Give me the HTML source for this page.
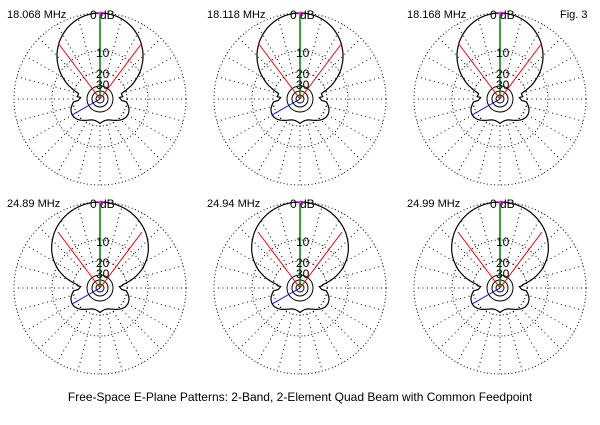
<!DOCTYPE html>
<html><head><meta charset="utf-8"><style>
html,body{margin:0;padding:0;background:#fff;}
svg text{font-family:"Liberation Sans",Arial,sans-serif;}
</style></head><body>
<svg id="s" width="600" height="420" viewBox="0 0 600 420" xmlns="http://www.w3.org/2000/svg">
<rect width="600" height="420" fill="#fff"/>
<text x="560" y="18" font-size="11">Fig. 3</text>
<text x="300" y="401" font-size="12" text-anchor="middle">Free-Space E-Plane Patterns: 2-Band, 2-Element Quad Beam with Common Feedpoint</text>
</svg>
<script>
var s=document.getElementById('s'),NS='http://www.w3.org/2000/svg';
function el(t,a,txt){var e=document.createElementNS(NS,t);for(var k in a)e.setAttribute(k,a[k]);if(txt)e.textContent=txt;s.appendChild(e);return e;}
var plots=[[100,99,'18.068 MHz',0],[300,99,'18.118 MHz',0],[500,99,'18.168 MHz',0],
[100,288,'24.89 MHz',1],[300,288,'24.94 MHz',1],[500,288,'24.99 MHz',1]];
plots.forEach(function(p){
 var cx=p[0],cy=p[1],R=86;
 [86,48,27].forEach(function(r){el('circle',{cx:cx,cy:cy,r:r,fill:'none',stroke:'#000','stroke-width':1,'stroke-dasharray':'1 2.5'});});
 for(var a=0;a<360;a+=15){var t=a*Math.PI/180;
  el('line',{x1:cx+27*Math.cos(t),y1:cy+27*Math.sin(t),x2:cx+R*Math.cos(t),y2:cy+R*Math.sin(t),stroke:'#000','stroke-dasharray':'1 3.5','stroke-width':1});}
 [4,8,13].forEach(function(r){el('circle',{cx:cx,cy:cy,r:r,fill:'none',stroke:'#000','stroke-width':1});});
 var pts=[],pw=p[3]?0.7:1;
 for(var d=0;d<=360;d+=2){var t=d*Math.PI/180,c=Math.cos(t);
  var main=c>0?R*Math.pow(c,pw):0;
  var u=Math.abs(d-180)*Math.PI/180; // 0 at back
  var rear=27+5*Math.cos(4*(u-Math.PI/3));
  if(Math.abs(Math.abs(d-180)-90)<5) rear-=4;
  var r=Math.max(main,rear);
  pts.push((cx+r*Math.sin(t)).toFixed(1)+','+(cy-r*Math.cos(t)).toFixed(1));}
 el('polyline',{points:pts.join(' '),fill:'none',stroke:'#000','stroke-width':1.2});
 el('line',{x1:cx,y1:cy,x2:cx-42,y2:cy-56,stroke:'red','stroke-width':1});
 el('line',{x1:cx,y1:cy,x2:cx+42,y2:cy-56,stroke:'red','stroke-width':1});
 el('line',{x1:cx,y1:cy,x2:cx,y2:cy-85,stroke:'green','stroke-width':1.5});
 el('line',{x1:cx,y1:cy,x2:cx-28,y2:cy+16,stroke:'blue','stroke-width':1});
 el('circle',{cx:cx+1,cy:cy-85,r:2.5,fill:'#e040e0'});
 el('text',{x:cx-10,y:cy-80,'font-size':12},'0 dB');
 el('text',{x:cx-4,y:cy-42,'font-size':12},'10');
 el('text',{x:cx-4,y:cy-21,'font-size':12},'20');
 el('text',{x:cx-4,y:cy-10,'font-size':12},'30');
 el('text',{x:cx-93,y:cy-81,'font-size':11},p[2]);
});
</script>
</body></html>
